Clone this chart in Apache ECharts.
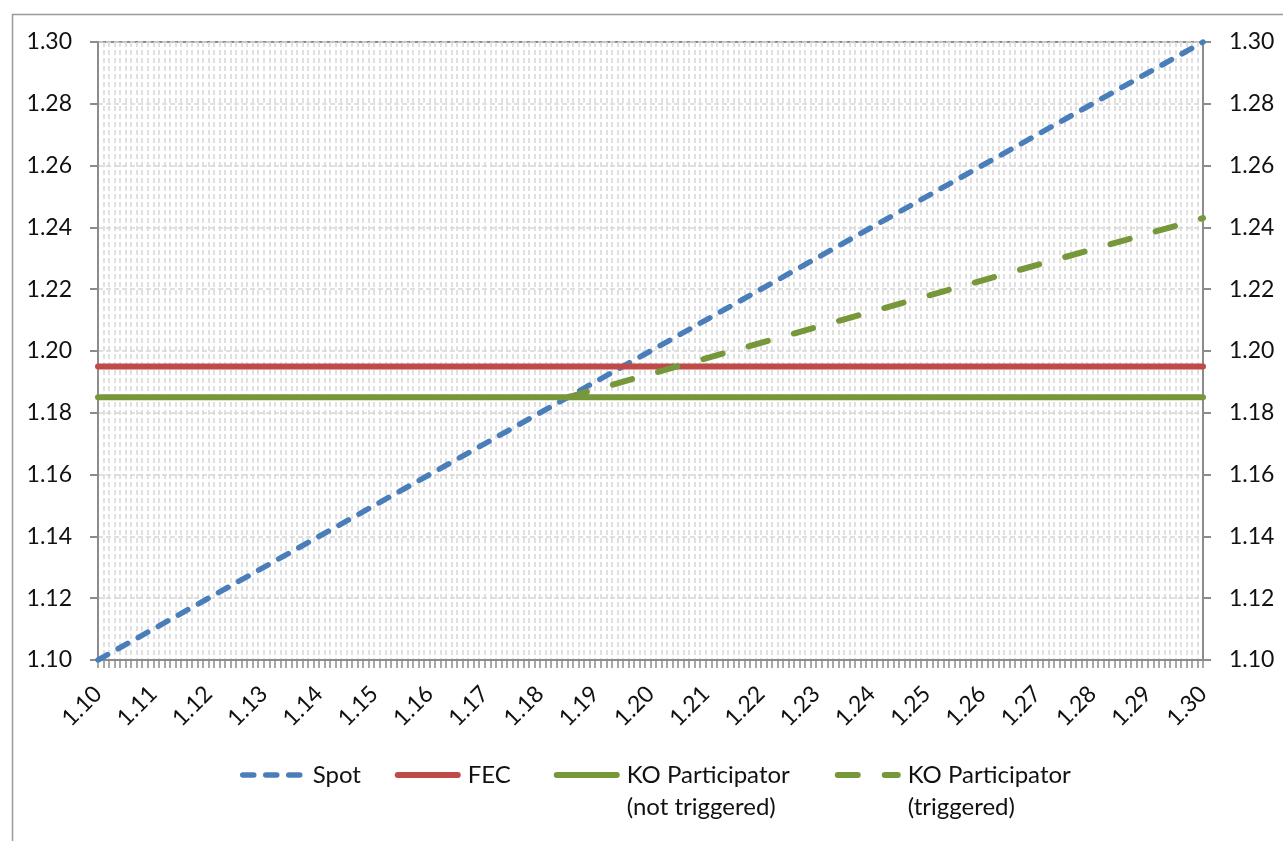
<!DOCTYPE html>
<html>
<head>
<meta charset="utf-8">
<script src="https://cdn.jsdelivr.net/npm/echarts@6/dist/echarts.min.js"></script>
<style>
  html, body { margin: 0; padding: 0; background: #fff; }
  #main { width: 1283px; height: 841px; }
</style>
</head>
<body>
<div id="main"></div>
<script>
// values
var spotX = [1.10, 1.30];
var spotY = [1.10, 1.30];
var fecX = [1.10, 1.30];
var fecY = [1.195, 1.195];
var koX = [1.10, 1.30];
var koY = [1.185, 1.185];
var koTrigX = [1.185, 1.30];
var koTrigY = [1.185, 1.243];
var seriesNames = ['Spot', 'FEC', 'KO Participator (not triggered)', 'KO Participator (triggered)'];
var legendTextWidths = [82, 86, 208, 170];

var blue = '#4a7ebb', red = '#be4b48', green = '#77973b';
var font = 'Lato';
var gridGray = '#d6d6d6', axisGray = '#8c8c8c';

// line looks, shared by the series and their legend icons
var lineLooks = [
    { color: blue, width: 5.5, type: [11, 12], cap: 'round' },
    { color: red, width: 6, type: 'solid', cap: 'round' },
    { color: green, width: 6, type: 'solid', cap: 'round' },
    { color: green, width: 6, type: [20, 27], cap: 'round' }
];

function pairs(xs, ys) {
    return xs.map(function (x, i) { return [x, ys[i]]; });
}

var myChart = echarts.init(document.getElementById('main'));

var yAxisBase = {
    type: 'value',
    min: 1.10,
    max: 1.30,
    interval: 0.02,
    axisLine: { show: true, lineStyle: { color: axisGray, width: 2 } },
    axisTick: { show: true, length: 8, lineStyle: { color: axisGray, width: 2 } },
    axisLabel: {
        margin: 26,
        fontFamily: font,
        fontSize: 23,
        color: '#111',
        formatter: function (v) { return v.toFixed(2); }
    }
};

var seriesData = [pairs(spotX, spotY), pairs(fecX, fecY), pairs(koX, koY), pairs(koTrigX, koTrigY)];

var option = {
    backgroundColor: '#fff',
    animation: false,
    // outer chart frame
    graphic: [{
        type: 'rect',
        left: 10,
        top: 12,
        shape: { width: 1400, height: 900 },
        style: { fill: 'none', stroke: '#9a9a9a', lineWidth: 1.5 },
        silent: true
    }],
    grid: {
        left: 98,
        right: 80,
        top: 42,
        bottom: 181,
        show: true,
        borderColor: axisGray,
        borderWidth: 2
    },
    legend: {
        left: 240,
        top: 727,
        padding: 0,
        itemGap: 0,
        itemWidth: 60,
        itemHeight: 14,
        textStyle: { fontFamily: font, fontSize: 24, color: '#111', lineHeight: 32, padding: [0, 0, 0, 5] },
        data: seriesNames.map(function (n, i) {
            return {
                name: n,
                itemStyle: { opacity: 0 },
                lineStyle: lineLooks[i],
                textStyle: { width: legendTextWidths[i] }
            };
        }),
        formatter: function (name) {
            if (name.indexOf('KO') === 0) {
                return '\n' + name.replace(' (', '\n(');
            }
            return name;
        }
    },
    xAxis: {
        type: 'value',
        min: 1.10,
        max: 1.30,
        interval: 0.01,
        axisLine: { show: true, onZero: false, lineStyle: { color: axisGray, width: 2 } },
        axisTick: { show: true, length: 8, lineStyle: { color: axisGray, width: 1.5 } },
        minorTick: { show: true, splitNumber: 10, length: 8, lineStyle: { color: axisGray, width: 1.5 } },
        splitLine: { show: true, lineStyle: { color: gridGray, width: 1.5, type: [5, 3] } },
        minorSplitLine: { show: true, lineStyle: { color: gridGray, width: 1.5, type: [5, 3] } },
        axisLabel: {
            rotate: 45,
            margin: 30,
            fontFamily: font,
            fontSize: 23,
            color: '#111',
            formatter: function (v) { return v.toFixed(2); }
        }
    },
    yAxis: [
        echarts.util.merge({
            position: 'left',
            splitLine: { show: true, lineStyle: { color: gridGray, width: 1.5, type: [5, 3] } }
        }, yAxisBase, true),
        echarts.util.merge({
            position: 'right',
            splitLine: { show: false }
        }, yAxisBase, true)
    ],
    series: seriesNames.map(function (n, i) {
        return {
            name: n,
            type: 'line',
            symbol: 'none',
            data: seriesData[i],
            lineStyle: lineLooks[i],
            itemStyle: { color: lineLooks[i].color }
        };
    })
};

myChart.setOption(option);
</script>
</body>
</html>
